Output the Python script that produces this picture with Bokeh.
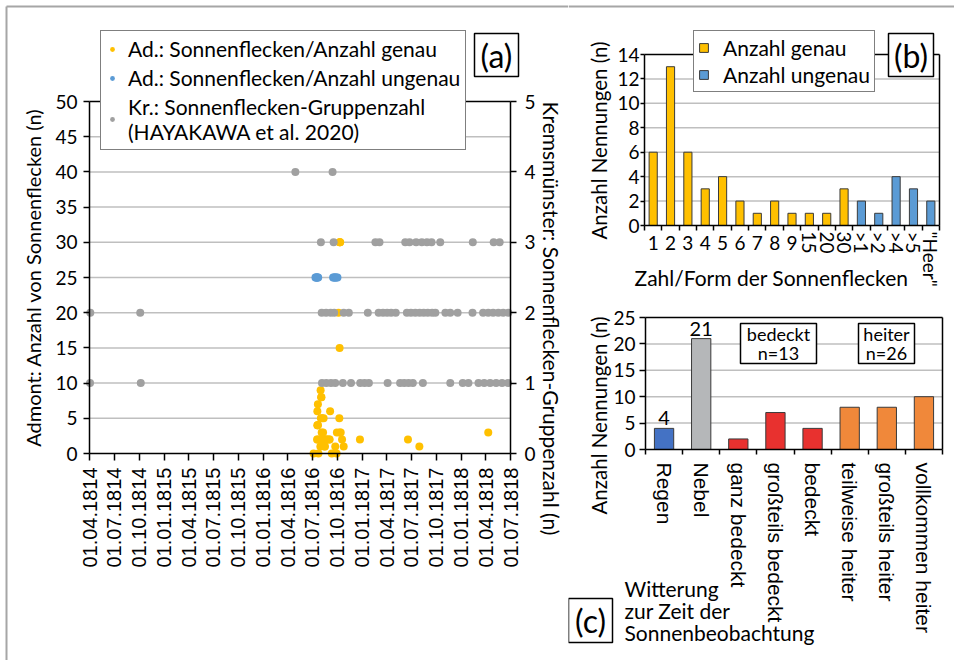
from math import pi
import pandas as pd
from bokeh.plotting import figure
from bokeh.models import (Range1d, LinearAxis, FixedTicker, DatetimeTickFormatter,
                          Legend, LegendItem, Label, BoxAnnotation)
from bokeh.layouts import row, column
from bokeh.embed import file_html
from bokeh.resources import INLINE

CAL = "Lato"
ARI = "Liberation Sans"
YEL = "#FFC000"
BLU = "#5B9BD5"
GRY = "#A0A0A0"
GRID = "#BFBFBF"
FRAME_GRAY = "#A6A6A6"

# ---------------- (a) data ----------------
genau_dates = ["1816-07-05", "1816-07-18", "1816-07-19", "1816-07-19", "1816-07-20", "1816-07-20",
               "1816-07-21", "1816-07-21", "1816-07-23", "1816-07-27", "1816-07-30", "1816-07-31",
               "1816-08-01", "1816-08-02", "1816-08-03", "1816-08-03", "1816-08-04", "1816-08-05",
               "1816-08-06", "1816-08-09", "1816-08-11", "1816-08-14", "1816-08-16", "1816-08-19",
               "1816-08-22", "1816-08-25", "1816-09-01", "1816-09-02", "1816-09-04", "1816-09-10",
               "1816-09-23", "1816-09-28", "1816-09-29", "1816-10-05", "1816-10-08", "1816-10-09",
               "1816-10-09", "1816-10-10", "1816-10-10", "1816-10-11", "1816-10-13", "1816-10-18",
               "1816-10-24", "1816-12-23", "1817-06-18", "1817-07-30", "1818-04-10"]
genau_values = [0, 2, 4, 6, 4, 2, 7, 4, 0, 2, 1, 9, 5, 8, 2, 8, 3, 5, 2, 3, 5, 1, 1, 2,
                2, 2, 2, 2, 6, 0, 1, 0, 3, 20, 5, 15, 30, 30, 3, 30, 3, 2, 1, 2, 2, 1, 3]

ungenau_dates = ["1816-07-12", "1816-07-14", "1816-07-16", "1816-07-18", "1816-07-20", "1816-07-22",
                 "1816-09-15", "1816-09-18", "1816-09-21", "1816-09-24", "1816-09-27", "1816-10-01"]
ungenau_values = [25, 25, 25, 25, 25, 25, 25, 25, 25, 25, 25, 25]

krems_dates = [
    # 1 group
    "1814-04-03", "1814-10-07", "1816-08-05", "1816-08-21", "1816-09-07", "1816-09-23", "1816-10-21",
    "1816-11-20", "1816-12-24", "1817-01-09", "1817-01-25", "1817-04-04", "1817-05-20", "1817-06-04",
    "1817-06-20", "1817-07-06", "1817-08-12", "1817-11-21", "1818-01-06", "1818-01-27", "1818-03-05",
    "1818-03-26", "1818-04-17", "1818-05-09", "1818-05-31", "1818-06-22",
    # 2 groups
    "1814-04-04", "1814-10-05", "1816-08-04", "1816-08-20", "1816-09-06", "1816-09-19", "1816-10-24",
    "1816-11-12", "1817-01-21", "1817-03-02", "1817-03-18", "1817-04-02", "1817-04-17", "1817-05-04",
    "1817-06-14", "1817-06-29", "1817-07-15", "1817-07-31", "1817-08-15", "1817-08-30", "1817-09-15",
    "1817-09-27", "1817-11-03", "1817-11-21", "1817-12-18", "1818-02-11", "1818-03-22", "1818-04-10",
    "1818-04-28", "1818-05-17", "1818-06-04", "1818-06-23",
    # 3 groups
    "1816-08-01", "1816-09-17", "1817-02-18", "1817-03-05", "1817-06-08", "1817-06-24", "1817-07-18",
    "1817-08-08", "1817-08-27", "1817-09-13", "1817-10-15", "1818-02-12", "1818-04-30", "1818-05-22",
    # 4 groups
    "1816-04-29", "1816-09-13"]
krems_groups = [1, 1, 1, 1, 1, 1, 1, 1, 1, 1, 1, 1, 1, 1, 1, 1, 1, 1, 1, 1, 1, 1, 1, 1, 1, 1,
                2, 2, 2, 2, 2, 2, 2, 2, 2, 2, 2, 2, 2, 2, 2, 2, 2, 2, 2, 2, 2, 2, 2, 2, 2, 2,
                2, 2, 2, 2, 2, 2,
                3, 3, 3, 3, 3, 3, 3, 3, 3, 3, 3, 3, 3, 3,
                4, 4]

a_ticks = ["1814-04-01", "1814-07-01", "1814-10-01", "1815-01-01", "1815-04-01", "1815-07-01",
           "1815-10-01", "1816-01-01", "1816-04-01", "1816-07-01", "1816-10-01", "1817-01-01",
           "1817-04-01", "1817-07-01", "1817-10-01", "1818-01-01", "1818-04-01", "1818-07-01"]
a_left_ticks = [0, 5, 10, 15, 20, 25, 30, 35, 40, 45, 50]
a_right_ticks = [0, 1, 2, 3, 4, 5]

# ---------------- (b) data ----------------
b_labels = ["1", "2", "3", "4", "5", "6", "7", "8", "9", "15", "20", "30",
            ">1", ">2", ">4", ">5", '"Heer"']
b_counts = [6, 13, 6, 3, 4, 2, 1, 2, 1, 1, 1, 3, 2, 1, 4, 3, 2]
b_kind = ["genau", "genau", "genau", "genau", "genau", "genau", "genau", "genau", "genau",
          "genau", "genau", "genau", "ungenau", "ungenau", "ungenau", "ungenau", "ungenau"]
b_ticks = [0, 2, 4, 6, 8, 10, 12, 14]

# ---------------- (c) data ----------------
c_labels = ["Regen", "Nebel", "ganz bedeckt", "großteils bedeckt", "bedeckt",
            "teilweise heiter", "großteils heiter", "vollkommen heiter"]
c_counts = [4, 21, 2, 7, 4, 8, 8, 10]
c_group = ["Regen", "Nebel", "bedeckt", "bedeckt", "bedeckt", "heiter", "heiter", "heiter"]
c_ticks = [0, 5, 10, 15, 20, 25]
c_colors_by_group = {"Regen": "#4472C4", "Nebel": "#B5B7B9", "bedeckt": "#E8312F", "heiter": "#F0883A"}


def ms(d):
    return pd.Timestamp(d).value / 1e6


def style_axis(ax, font=CAL, size="19px"):
    ax.axis_line_color = "black"
    ax.axis_line_width = 1.5
    ax.major_tick_line_color = "black"
    ax.major_tick_line_width = 1.5
    ax.major_tick_in = 0
    ax.major_tick_out = 6
    ax.minor_tick_line_color = None
    ax.major_label_text_font = font
    ax.major_label_text_font_size = size
    ax.major_label_text_color = "black"


def panel_fig(W, H, xr, yr, **kw):
    p = figure(width=W, height=H, x_range=Range1d(*xr), y_range=Range1d(*yr),
               output_backend="svg", toolbar_location=None, min_border=0,
               min_border_left=0, min_border_right=0, min_border_top=0, min_border_bottom=0, **kw)
    p.outline_line_color = None
    p.grid.visible = False
    p.background_fill_color = "white"
    p.border_fill_color = "white"
    return p


def converters(ox, oy, W, H, xr, yr):
    def X(px):
        return xr[0] + (px - ox) / W * (xr[1] - xr[0])

    def Y(py):
        return yr[1] - (py - oy) / H * (yr[1] - yr[0])
    return X, Y


def text_label(p, x, y, text, size="20px", font=CAL, angle=0, align="center", baseline="middle", **kw):
    p.add_layout(Label(x=x, y=y, text=text, angle=angle, text_font=font, text_font_size=size,
                       text_align=align, text_baseline=baseline, text_color="black", **kw))


def boxed_text(p, X, Y, l, r, t, b, text, size="32px", **kw):
    p.add_layout(BoxAnnotation(left=X(l), right=X(r), top=Y(t), bottom=Y(b), fill_color="white",
                               fill_alpha=1.0, line_color="black", line_width=1.5, line_alpha=1.0))
    text_label(p, X((l + r) / 2), Y((t + b) / 2), text, size=size, **kw)


# =============== panel (a) ===============
W_A, H_A = 568, 660
A_L, A_R, A_T, A_B = 89, 510, 101, 453          # plot rectangle in page pixels
t0, t1 = ms(a_ticks[0]), ms(a_ticks[-1])
a_top = a_left_ticks[-1]
a_ratio = a_left_ticks[-1] / a_right_ticks[-1]
xr_a = (t0 - A_L / (A_R - A_L) * (t1 - t0), t1 + (W_A - A_R) / (A_R - A_L) * (t1 - t0))
yr_a = (-(H_A - A_B) / (A_B - A_T) * a_top, a_top + A_T / (A_B - A_T) * a_top)
Xa, Ya = converters(0, 0, W_A, H_A, xr_a, yr_a)

pa = panel_fig(W_A, H_A, xr_a, yr_a, x_axis_type="datetime")
pa.extra_y_ranges = {"krems": Range1d(yr_a[0] / a_ratio, yr_a[1] / a_ratio)}

# outer gray frame of the figure
pa.segment(x0=[Xa(6), Xa(6)], y0=[Ya(6), Ya(6)], x1=[Xa(6), Xa(568)], y1=[Ya(668), Ya(6)],
           line_color=FRAME_GRAY, line_width=2)
# gridlines and top border of the plot area
inner = a_left_ticks[1:-1]
pa.segment(x0=[t0] * len(inner), x1=[t1] * len(inner), y0=inner, y1=inner, line_color=GRID, line_width=1.5)
pa.segment(x0=[t0], x1=[t1], y0=[a_top], y1=[a_top], line_color="black", line_width=1.5)

r_gen = pa.scatter([ms(d) for d in genau_dates], genau_values, size=8, fill_color=YEL, line_color=None)
r_ung = pa.scatter([ms(d) for d in ungenau_dates], ungenau_values, size=8, fill_color=BLU, line_color=None)
r_kr = pa.scatter([ms(d) for d in krems_dates], krems_groups, size=8, fill_color=GRY, line_color=None,
                  y_range_name="krems")

xa = pa.xaxis[0]
style_axis(xa, ARI, "20px")
xa.fixed_location = 0
xa.bounds = (t0, t1)
xa.ticker = FixedTicker(ticks=[ms(d) for d in a_ticks])
fmt = "%d.%m.%Y"
xa.formatter = DatetimeTickFormatter(days=fmt, months=fmt, years=fmt, hours=fmt, hourmin=fmt,
                                     minutes=fmt, minsec=fmt, seconds=fmt, milliseconds=fmt,
                                     microseconds=fmt)
xa.major_label_orientation = pi / 2
xa.major_tick_out = 7
xa.major_label_standoff = 7

ya = pa.yaxis[0]
style_axis(ya)
ya.fixed_location = t0
ya.bounds = (a_left_ticks[0], a_left_ticks[-1])
ya.ticker = FixedTicker(ticks=a_left_ticks)
ya.major_label_standoff = 6

yr = LinearAxis(y_range_name="krems", ticker=FixedTicker(ticks=a_right_ticks), fixed_location=t1,
                bounds=(a_right_ticks[0], a_right_ticks[-1]))
style_axis(yr)
yr.major_label_standoff = 8
pa.add_layout(yr, "right")

text_label(pa, Xa(32), Ya(277), "Admont: Anzahl von Sonnenflecken (n)", size="20px", angle=pi / 2)
text_label(pa, Xa(551), Ya(318), "Kremsmünster: Sonnenflecken-Gruppenzahl (n)", size="21px",
           angle=-pi / 2)

leg_a = Legend(items=[LegendItem(label="Ad.: Sonnenflecken/Anzahl genau", renderers=[r_gen]),
                      LegendItem(label="Ad.: Sonnenflecken/Anzahl ungenau", renderers=[r_ung]),
                      LegendItem(label="Kr.: Sonnenflecken-Gruppenzahl\n(HAYAKAWA et al. 2020)",
                                 renderers=[r_kr])],
               location=(100, H_A - 150), border_line_color="black", border_line_width=1.5,
               background_fill_color="white", background_fill_alpha=1.0,
               label_text_font=CAL, label_text_font_size="21px", label_text_color="black",
               glyph_width=12, glyph_height=12, label_standoff=10, padding=5, spacing=4, margin=0)
pa.add_layout(leg_a)
boxed_text(pa, Xa, Ya, 474, 518, 33, 76, "(a)")

# =============== panel (b) ===============
W_B, H_B, OX_B, OY_B = 386, 300, 568, 0
B_L, B_R, B_T, B_B = 644, 939, 54, 225
nb = len(b_labels)
b_pos = list(range(1, nb + 1))
b_unit = (B_R - B_L) / nb
b_top = b_ticks[-1]
xr_b = (0.5 - (B_L - OX_B) / b_unit, nb + 0.5 + (OX_B + W_B - B_R) / b_unit)
yr_b = (-(OY_B + H_B - B_B) / (B_B - B_T) * b_top, b_top + (B_T - OY_B) / (B_B - B_T) * b_top)
Xb, Yb = converters(OX_B, OY_B, W_B, H_B, xr_b, yr_b)

pb = panel_fig(W_B, H_B, xr_b, yr_b)
pb.segment(x0=[Xb(568)], y0=[Yb(6)], x1=[Xb(954)], y1=[Yb(6)], line_color=FRAME_GRAY, line_width=2)
inner_b = b_ticks[1:-1]
pb.segment(x0=[0.5] * len(inner_b), x1=[nb + 0.5] * len(inner_b), y0=inner_b, y1=inner_b,
           line_color=GRID, line_width=1.5)
pb.segment(x0=[0.5, nb + 0.5], y0=[b_top, 0], x1=[nb + 0.5, nb + 0.5], y1=[b_top, b_top],
           line_color="black", line_width=1.5)

bg = [i for i, k in enumerate(b_kind) if k == "genau"]
bu = [i for i, k in enumerate(b_kind) if k == "ungenau"]
r_bg = pb.vbar(x=[b_pos[i] for i in bg], top=[b_counts[i] for i in bg], width=0.47,
               fill_color=YEL, line_color="#3A3A3A", line_width=1)
r_bu = pb.vbar(x=[b_pos[i] for i in bu], top=[b_counts[i] for i in bu], width=0.47,
               fill_color=BLU, line_color="#3A3A3A", line_width=1)

xb = pb.xaxis[0]
style_axis(xb)
xb.fixed_location = 0
xb.bounds = (0.5, nb + 0.5)
xb.ticker = FixedTicker(ticks=b_pos, minor_ticks=[p - 0.5 for p in b_pos] + [nb + 0.5])
xb.major_label_overrides = {p: (lab if len(lab) == 1 else "") for p, lab in zip(b_pos, b_labels)}
xb.major_tick_line_color = None
xb.major_tick_out = 0
xb.major_label_standoff = 5
xb.minor_tick_line_color = "black"
xb.minor_tick_line_width = 1.5
xb.minor_tick_out = 5
xb.minor_tick_in = 0

yb = pb.yaxis[0]
style_axis(yb)
yb.fixed_location = 0.5
yb.bounds = (0, b_top)
yb.ticker = FixedTicker(ticks=b_ticks)
yb.major_tick_out = 4
yb.major_label_standoff = 1

for p, lab in zip(b_pos, b_labels):
    if len(lab) > 1:
        text_label(pb, p, Yb(231), lab, size="19px", angle=-pi / 2, align="left")
text_label(pb, Xb(598), Yb(140), "Anzahl Nennungen (n)", size="20.5px", angle=pi / 2)
text_label(pb, Xb(771), Yb(277), "Zahl/Form der Sonnenflecken", size="21px")

leg_b = Legend(items=[LegendItem(label="Anzahl genau", renderers=[r_bg]),
                      LegendItem(label="Anzahl ungenau", renderers=[r_bu])],
               location=(693 - OX_B, H_B - 92), border_line_color="black", border_line_width=1.5,
               background_fill_color="white", background_fill_alpha=1.0,
               label_text_font=CAL, label_text_font_size="21px", label_text_color="black",
               glyph_width=11, glyph_height=11, label_standoff=14, padding=4, spacing=2, margin=0)
pb.add_layout(leg_b)
boxed_text(pb, Xb, Yb, 888, 933, 33, 76, "(b)")

# =============== panel (c) ===============
W_C, H_C, OX_C, OY_C = 386, 364, 568, 300
C_L, C_R, C_T, C_B = 645, 942, 317, 449
nc = len(c_labels)
c_pos = list(range(1, nc + 1))
c_unit = (C_R - C_L) / nc
c_top = c_ticks[-1]
xr_c = (0.5 - (C_L - OX_C) / c_unit, nc + 0.5 + (OX_C + W_C - C_R) / c_unit)
yr_c = (-(OY_C + H_C - C_B) / (C_B - C_T) * c_top, c_top + (C_T - OY_C) / (C_B - C_T) * c_top)
Xc, Yc = converters(OX_C, OY_C, W_C, H_C, xr_c, yr_c)

pc = panel_fig(W_C, H_C, xr_c, yr_c)
inner_c = c_ticks[1:-1]
pc.segment(x0=[0.5] * len(inner_c), x1=[nc + 0.5] * len(inner_c), y0=inner_c, y1=inner_c,
           line_color=GRID, line_width=1.5)
pc.segment(x0=[0.5, nc + 0.5], y0=[c_top, 0], x1=[nc + 0.5, nc + 0.5], y1=[c_top, c_top],
           line_color="black", line_width=1.5)
pc.vbar(x=c_pos, top=c_counts, width=0.52, fill_color=[c_colors_by_group[g] for g in c_group],
        line_color="#3A3A3A", line_width=1)

xc = pc.xaxis[0]
style_axis(xc, ARI, "21px")
xc.fixed_location = 0
xc.bounds = (0.5, nc + 0.5)
xc.ticker = FixedTicker(ticks=c_pos, minor_ticks=[p - 0.5 for p in c_pos] + [nc + 0.5])
xc.major_label_overrides = {p: lab for p, lab in zip(c_pos, c_labels)}
xc.major_label_orientation = -pi / 2
xc.major_tick_line_color = None
xc.major_tick_out = 0
xc.major_label_standoff = 8
xc.minor_tick_line_color = "black"
xc.minor_tick_line_width = 1.5
xc.minor_tick_out = 5
xc.minor_tick_in = 0

yc = pc.yaxis[0]
style_axis(yc)
yc.fixed_location = 0.5
yc.bounds = (0, c_top)
yc.ticker = FixedTicker(ticks=c_ticks)
yc.major_label_standoff = 4

# value labels on the Regen and Nebel bars
for p, v, g in zip(c_pos, c_counts, c_group):
    if g in ("Regen", "Nebel"):
        text_label(pc, p, v, str(v), size="20px", baseline="bottom", y_offset=3)

n_bed = sum(v for v, g in zip(c_counts, c_group) if g == "bedeckt")
n_hei = sum(v for v, g in zip(c_counts, c_group) if g == "heiter")
boxed_text(pc, Xc, Yc, 740, 816, 323, 363, f"bedeckt\nn={n_bed}", size="18px", text_line_height=0.88)
boxed_text(pc, Xc, Yc, 858, 914, 323, 363, f"heiter\nn={n_hei}", size="18px", text_line_height=0.88)

text_label(pc, Xc(598), Yc(415), "Anzahl Nennungen (n)", size="20.5px", angle=pi / 2)
text_label(pc, Xc(624), Yc(575), "Witterung\nzur Zeit der\nSonnenbeobachtung", size="21px",
           align="left", baseline="top", text_line_height=0.89)
boxed_text(pc, Xc, Yc, 568, 612, 598, 642, "(c)")

layout = row(pa, column(pb, pc, spacing=0), spacing=0)

open("out.html", "w").write(file_html(layout, INLINE))
